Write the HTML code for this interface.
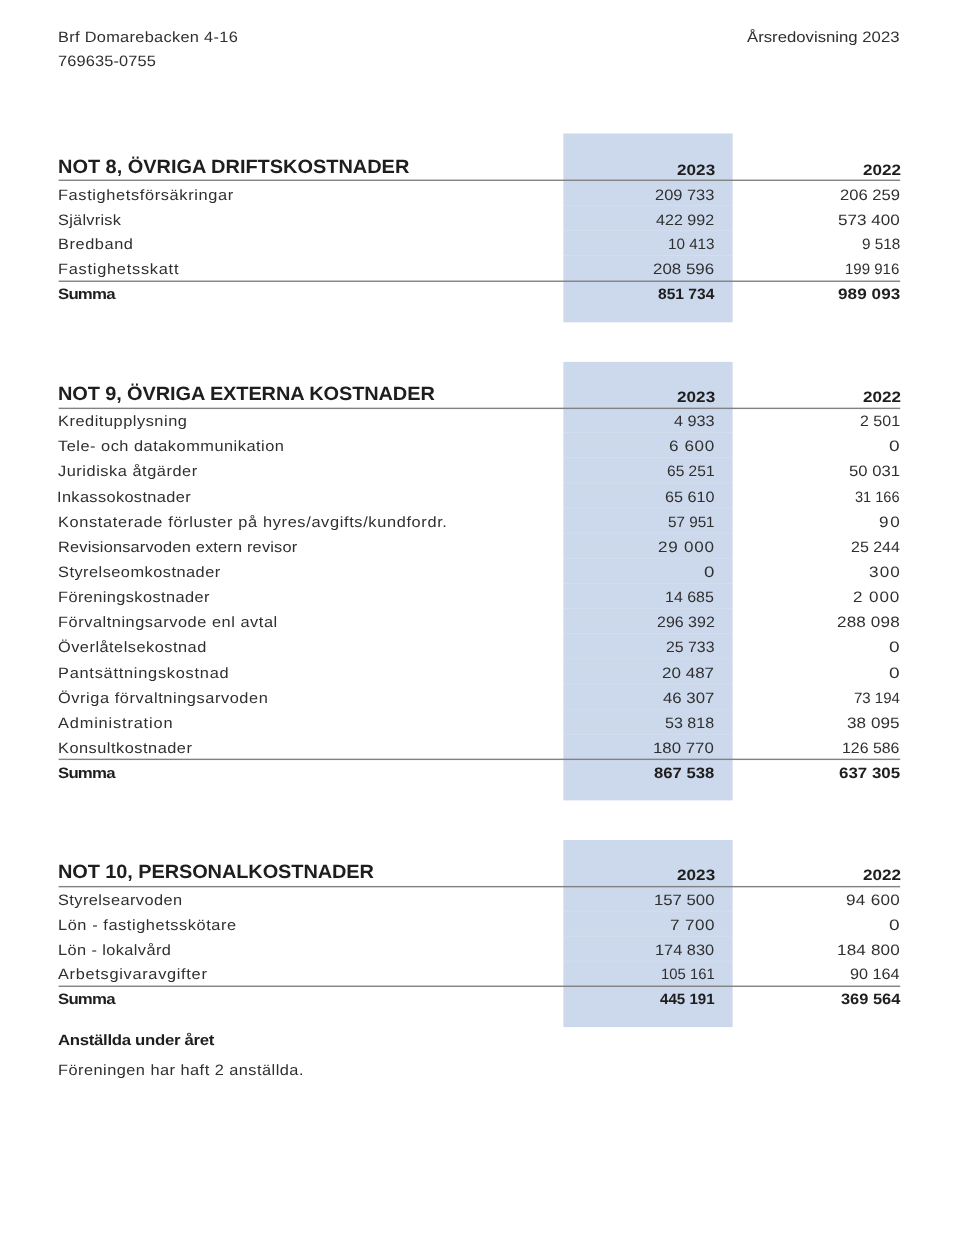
<!DOCTYPE html>
<html lang="sv"><head><meta charset="utf-8"><title>Årsredovisning 2023</title>
<style>
html,body{margin:0;padding:0;background:#fff}
body{width:960px;height:1240px;position:relative;overflow:hidden;font-family:"Liberation Sans", sans-serif;color:#2f2f2f;font-size:15.0px;text-rendering:geometricPrecision}
.t{position:absolute;white-space:nowrap;line-height:24px;height:24px;transform-origin:0 0}
.b{font-weight:bold;color:#1e1e1e}
.h{font-weight:bold;font-size:19.2px;color:#1e1e1e}
svg{position:absolute;left:0;top:0}
</style></head><body>
<svg width="960" height="1240" viewBox="0 0 960 1240">
<rect x="563.4" y="133.5" width="169.20" height="188.80" fill="#ccd8eb"/>
<rect x="563.4" y="205.10" width="169.20" height="1" fill="#fff" fill-opacity="0.15"/>
<rect x="563.4" y="230.10" width="169.20" height="1" fill="#fff" fill-opacity="0.15"/>
<rect x="563.4" y="255.10" width="169.20" height="1" fill="#fff" fill-opacity="0.15"/>
<rect x="563.4" y="361.85" width="169.20" height="438.55" fill="#ccd8eb"/>
<rect x="563.4" y="432.00" width="169.20" height="1" fill="#fff" fill-opacity="0.15"/>
<rect x="563.4" y="457.15" width="169.20" height="1" fill="#fff" fill-opacity="0.15"/>
<rect x="563.4" y="482.30" width="169.20" height="1" fill="#fff" fill-opacity="0.15"/>
<rect x="563.4" y="507.45" width="169.20" height="1" fill="#fff" fill-opacity="0.15"/>
<rect x="563.4" y="532.60" width="169.20" height="1" fill="#fff" fill-opacity="0.15"/>
<rect x="563.4" y="557.75" width="169.20" height="1" fill="#fff" fill-opacity="0.15"/>
<rect x="563.4" y="582.90" width="169.20" height="1" fill="#fff" fill-opacity="0.15"/>
<rect x="563.4" y="608.05" width="169.20" height="1" fill="#fff" fill-opacity="0.15"/>
<rect x="563.4" y="633.20" width="169.20" height="1" fill="#fff" fill-opacity="0.15"/>
<rect x="563.4" y="658.35" width="169.20" height="1" fill="#fff" fill-opacity="0.15"/>
<rect x="563.4" y="683.50" width="169.20" height="1" fill="#fff" fill-opacity="0.15"/>
<rect x="563.4" y="708.65" width="169.20" height="1" fill="#fff" fill-opacity="0.15"/>
<rect x="563.4" y="733.80" width="169.20" height="1" fill="#fff" fill-opacity="0.15"/>
<rect x="563.4" y="840.0" width="169.20" height="187.10" fill="#ccd8eb"/>
<rect x="563.4" y="910.70" width="169.20" height="1" fill="#fff" fill-opacity="0.15"/>
<rect x="563.4" y="935.70" width="169.20" height="1" fill="#fff" fill-opacity="0.15"/>
<rect x="563.4" y="960.70" width="169.20" height="1" fill="#fff" fill-opacity="0.15"/>
<rect x="58.6" y="179.57" width="841.6" height="1.4" fill="#828282"/>
<rect x="58.6" y="280.53" width="841.6" height="1.4" fill="#828282"/>
<rect x="58.6" y="407.66" width="841.6" height="1.4" fill="#828282"/>
<rect x="58.6" y="758.66" width="841.6" height="1.4" fill="#828282"/>
<rect x="58.6" y="885.95" width="841.6" height="1.4" fill="#828282"/>
<rect x="58.6" y="985.57" width="841.6" height="1.4" fill="#828282"/>
</svg>
<div class="t" style="left:57.63px;top:26px;transform:scaleX(1.0900);letter-spacing:0.283px">Brf Domarebacken 4-16</div>
<div class="t" style="left:58.10px;top:50px;transform:scaleX(1.0900);letter-spacing:0.125px">769635-0755</div>
<div class="t" style="left:747.21px;top:26px;transform:scaleX(1.1151)">Årsredovisning 2023</div>
<div class="t h" style="left:58.15px;top:156px;transform:scaleX(1.0400);letter-spacing:-0.018px">NOT 8, ÖVRIGA DRIFTSKOSTNADER</div>
<div class="t b" style="left:676.70px;top:159px;transform:scaleX(1.1400);letter-spacing:0.032px">2023</div>
<div class="t b" style="left:862.70px;top:159px;transform:scaleX(1.1400)">2022</div>
<div class="t" style="left:57.63px;top:184px;transform:scaleX(1.0900);letter-spacing:0.584px">Fastighetsförsäkringar</div>
<div class="t" style="left:654.88px;top:184px;transform:scaleX(1.0954)">209 733</div>
<div class="t" style="left:839.77px;top:184px;transform:scaleX(1.1074)">206 259</div>
<div class="t" style="left:58.03px;top:209px;transform:scaleX(1.0900);letter-spacing:0.230px">Självrisk</div>
<div class="t" style="left:656.14px;top:209px;transform:scaleX(1.0723)">422 992</div>
<div class="t" style="left:838.00px;top:209px;transform:scaleX(1.1380)">573 400</div>
<div class="t" style="left:57.63px;top:233px;transform:scaleX(1.0900);letter-spacing:0.525px">Bredband</div>
<div class="t" style="left:667.82px;top:233px;transform:scaleX(1.0145)">10 413</div>
<div class="t" style="left:861.51px;top:233px;transform:scaleX(1.0200)">9 518</div>
<div class="t" style="left:57.63px;top:258px;transform:scaleX(1.0900);letter-spacing:0.688px">Fastighetsskatt</div>
<div class="t" style="left:653.16px;top:258px;transform:scaleX(1.1272)">208 596</div>
<div class="t" style="left:845.44px;top:258px;transform:scaleX(1.0007)">199 916</div>
<div class="t b" style="left:58.23px;top:283px;transform:scaleX(1.1200);letter-spacing:-0.718px">Summa</div>
<div class="t b" style="left:657.70px;top:283px;transform:scaleX(1.0393)">851 734</div>
<div class="t b" style="left:838.33px;top:283px;transform:scaleX(1.1400);letter-spacing:0.064px">989 093</div>
<div class="t h" style="left:58.15px;top:383px;transform:scaleX(1.0400);letter-spacing:-0.100px">NOT 9, ÖVRIGA EXTERNA KOSTNADER</div>
<div class="t b" style="left:676.70px;top:386px;transform:scaleX(1.1400);letter-spacing:0.032px">2023</div>
<div class="t b" style="left:862.70px;top:386px;transform:scaleX(1.1400)">2022</div>
<div class="t" style="left:57.63px;top:410px;transform:scaleX(1.0900);letter-spacing:0.487px">Kreditupplysning</div>
<div class="t" style="left:673.74px;top:410px;transform:scaleX(1.0817)">4 933</div>
<div class="t" style="left:859.80px;top:410px;transform:scaleX(1.0668)">2 501</div>
<div class="t" style="left:58.44px;top:435px;transform:scaleX(1.0900);letter-spacing:0.468px">Tele- och datakommunikation</div>
<div class="t" style="left:669.07px;top:435px;transform:scaleX(1.1400);letter-spacing:0.529px">6 600</div>
<div class="t" style="left:889.30px;top:435px;transform:scaleX(1.2736)">0</div>
<div class="t" style="left:58.39px;top:460px;transform:scaleX(1.0900);letter-spacing:0.498px">Juridiska åtgärder</div>
<div class="t" style="left:666.85px;top:460px;transform:scaleX(1.0363)">65 251</div>
<div class="t" style="left:849.02px;top:460px;transform:scaleX(1.1102)">50 031</div>
<div class="t" style="left:57.47px;top:486px;transform:scaleX(1.0900);letter-spacing:0.332px">Inkassokostnader</div>
<div class="t" style="left:664.82px;top:486px;transform:scaleX(1.0790)">65 610</div>
<div class="t" style="left:855.25px;top:486px;transform:scaleX(0.9714)">31 166</div>
<div class="t" style="left:57.63px;top:511px;transform:scaleX(1.0900);letter-spacing:0.594px">Konstaterade förluster på hyres/avgifts/kundfordr.</div>
<div class="t" style="left:667.80px;top:511px;transform:scaleX(1.0152)">57 951</div>
<div class="t" style="left:879.11px;top:511px;transform:scaleX(1.1400);letter-spacing:1.582px">90</div>
<div class="t" style="left:57.63px;top:536px;transform:scaleX(1.0900);letter-spacing:0.172px">Revisionsarvoden extern revisor</div>
<div class="t" style="left:658.45px;top:536px;transform:scaleX(1.1400);letter-spacing:0.634px">29 000</div>
<div class="t" style="left:850.80px;top:536px;transform:scaleX(1.0661)">25 244</div>
<div class="t" style="left:58.03px;top:561px;transform:scaleX(1.0900);letter-spacing:0.437px">Styrelseomkostnader</div>
<div class="t" style="left:704.02px;top:561px;transform:scaleX(1.2453)">0</div>
<div class="t" style="left:868.92px;top:561px;transform:scaleX(1.1400);letter-spacing:1.008px">300</div>
<div class="t" style="left:57.63px;top:586px;transform:scaleX(1.0900);letter-spacing:0.373px">Föreningskostnader</div>
<div class="t" style="left:665.46px;top:586px;transform:scaleX(1.0659)">14 685</div>
<div class="t" style="left:853.45px;top:586px;transform:scaleX(1.1400);letter-spacing:0.775px">2 000</div>
<div class="t" style="left:57.63px;top:611px;transform:scaleX(1.0900);letter-spacing:0.500px">Förvaltningsarvode enl avtal</div>
<div class="t" style="left:656.50px;top:611px;transform:scaleX(1.0657)">296 392</div>
<div class="t" style="left:837.15px;top:611px;transform:scaleX(1.1400);letter-spacing:0.122px">288 098</div>
<div class="t" style="left:58.18px;top:636px;transform:scaleX(1.0900);letter-spacing:0.449px">Överlåtelsekostnad</div>
<div class="t" style="left:665.91px;top:636px;transform:scaleX(1.0570)">25 733</div>
<div class="t" style="left:889.30px;top:636px;transform:scaleX(1.2736)">0</div>
<div class="t" style="left:57.63px;top:662px;transform:scaleX(1.0900);letter-spacing:0.687px">Pantsättningskostnad</div>
<div class="t" style="left:662.45px;top:662px;transform:scaleX(1.1348)">20 487</div>
<div class="t" style="left:889.30px;top:662px;transform:scaleX(1.2736)">0</div>
<div class="t" style="left:58.18px;top:687px;transform:scaleX(1.0900);letter-spacing:0.528px">Övriga förvaltningsarvoden</div>
<div class="t" style="left:663.12px;top:687px;transform:scaleX(1.1199)">46 307</div>
<div class="t" style="left:853.78px;top:687px;transform:scaleX(1.0005)">73 194</div>
<div class="t" style="left:57.82px;top:712px;transform:scaleX(1.0900);letter-spacing:0.768px">Administration</div>
<div class="t" style="left:665.36px;top:712px;transform:scaleX(1.0691)">53 818</div>
<div class="t" style="left:847.42px;top:712px;transform:scaleX(1.1400);letter-spacing:0.034px">38 095</div>
<div class="t" style="left:57.63px;top:737px;transform:scaleX(1.0900);letter-spacing:0.460px">Konsultkostnader</div>
<div class="t" style="left:653.40px;top:737px;transform:scaleX(1.1212)">180 770</div>
<div class="t" style="left:842.37px;top:737px;transform:scaleX(1.0579)">126 586</div>
<div class="t b" style="left:58.23px;top:762px;transform:scaleX(1.1200);letter-spacing:-0.718px">Summa</div>
<div class="t b" style="left:654.36px;top:762px;transform:scaleX(1.1114)">867 538</div>
<div class="t b" style="left:839.32px;top:762px;transform:scaleX(1.1268)">637 305</div>
<div class="t h" style="left:58.15px;top:861px;transform:scaleX(1.0400);letter-spacing:-0.090px">NOT 10, PERSONALKOSTNADER</div>
<div class="t b" style="left:676.70px;top:864px;transform:scaleX(1.1400);letter-spacing:0.032px">2023</div>
<div class="t b" style="left:862.70px;top:864px;transform:scaleX(1.1400)">2022</div>
<div class="t" style="left:58.03px;top:889px;transform:scaleX(1.0900);letter-spacing:0.389px">Styrelsearvoden</div>
<div class="t" style="left:653.71px;top:889px;transform:scaleX(1.1155)">157 500</div>
<div class="t" style="left:846.11px;top:889px;transform:scaleX(1.1400);letter-spacing:0.253px">94 600</div>
<div class="t" style="left:57.63px;top:914px;transform:scaleX(1.0900);letter-spacing:0.529px">Lön - fastighetsskötare</div>
<div class="t" style="left:669.76px;top:914px;transform:scaleX(1.1400);letter-spacing:0.377px">7 700</div>
<div class="t" style="left:889.30px;top:914px;transform:scaleX(1.2736)">0</div>
<div class="t" style="left:57.63px;top:939px;transform:scaleX(1.0900);letter-spacing:0.365px">Lön - lokalvård</div>
<div class="t" style="left:655.03px;top:939px;transform:scaleX(1.0907)">174 830</div>
<div class="t" style="left:836.98px;top:939px;transform:scaleX(1.1400);letter-spacing:0.133px">184 800</div>
<div class="t" style="left:57.82px;top:963px;transform:scaleX(1.0900);letter-spacing:0.638px">Arbetsgivaravgifter</div>
<div class="t" style="left:660.55px;top:963px;transform:scaleX(0.9898)">105 161</div>
<div class="t" style="left:850.16px;top:963px;transform:scaleX(1.0803)">90 164</div>
<div class="t b" style="left:58.23px;top:988px;transform:scaleX(1.1200);letter-spacing:-0.718px">Summa</div>
<div class="t b" style="left:659.74px;top:988px;transform:scaleX(1.0084)">445 191</div>
<div class="t b" style="left:840.67px;top:988px;transform:scaleX(1.0935)">369 564</div>
<div class="t b" style="left:57.96px;top:1029px;transform:scaleX(1.1200);letter-spacing:-0.288px">Anställda under året</div>
<div class="t" style="left:57.63px;top:1059px;transform:scaleX(1.0900);letter-spacing:0.432px">Föreningen har haft 2 anställda.</div>
</body></html>
